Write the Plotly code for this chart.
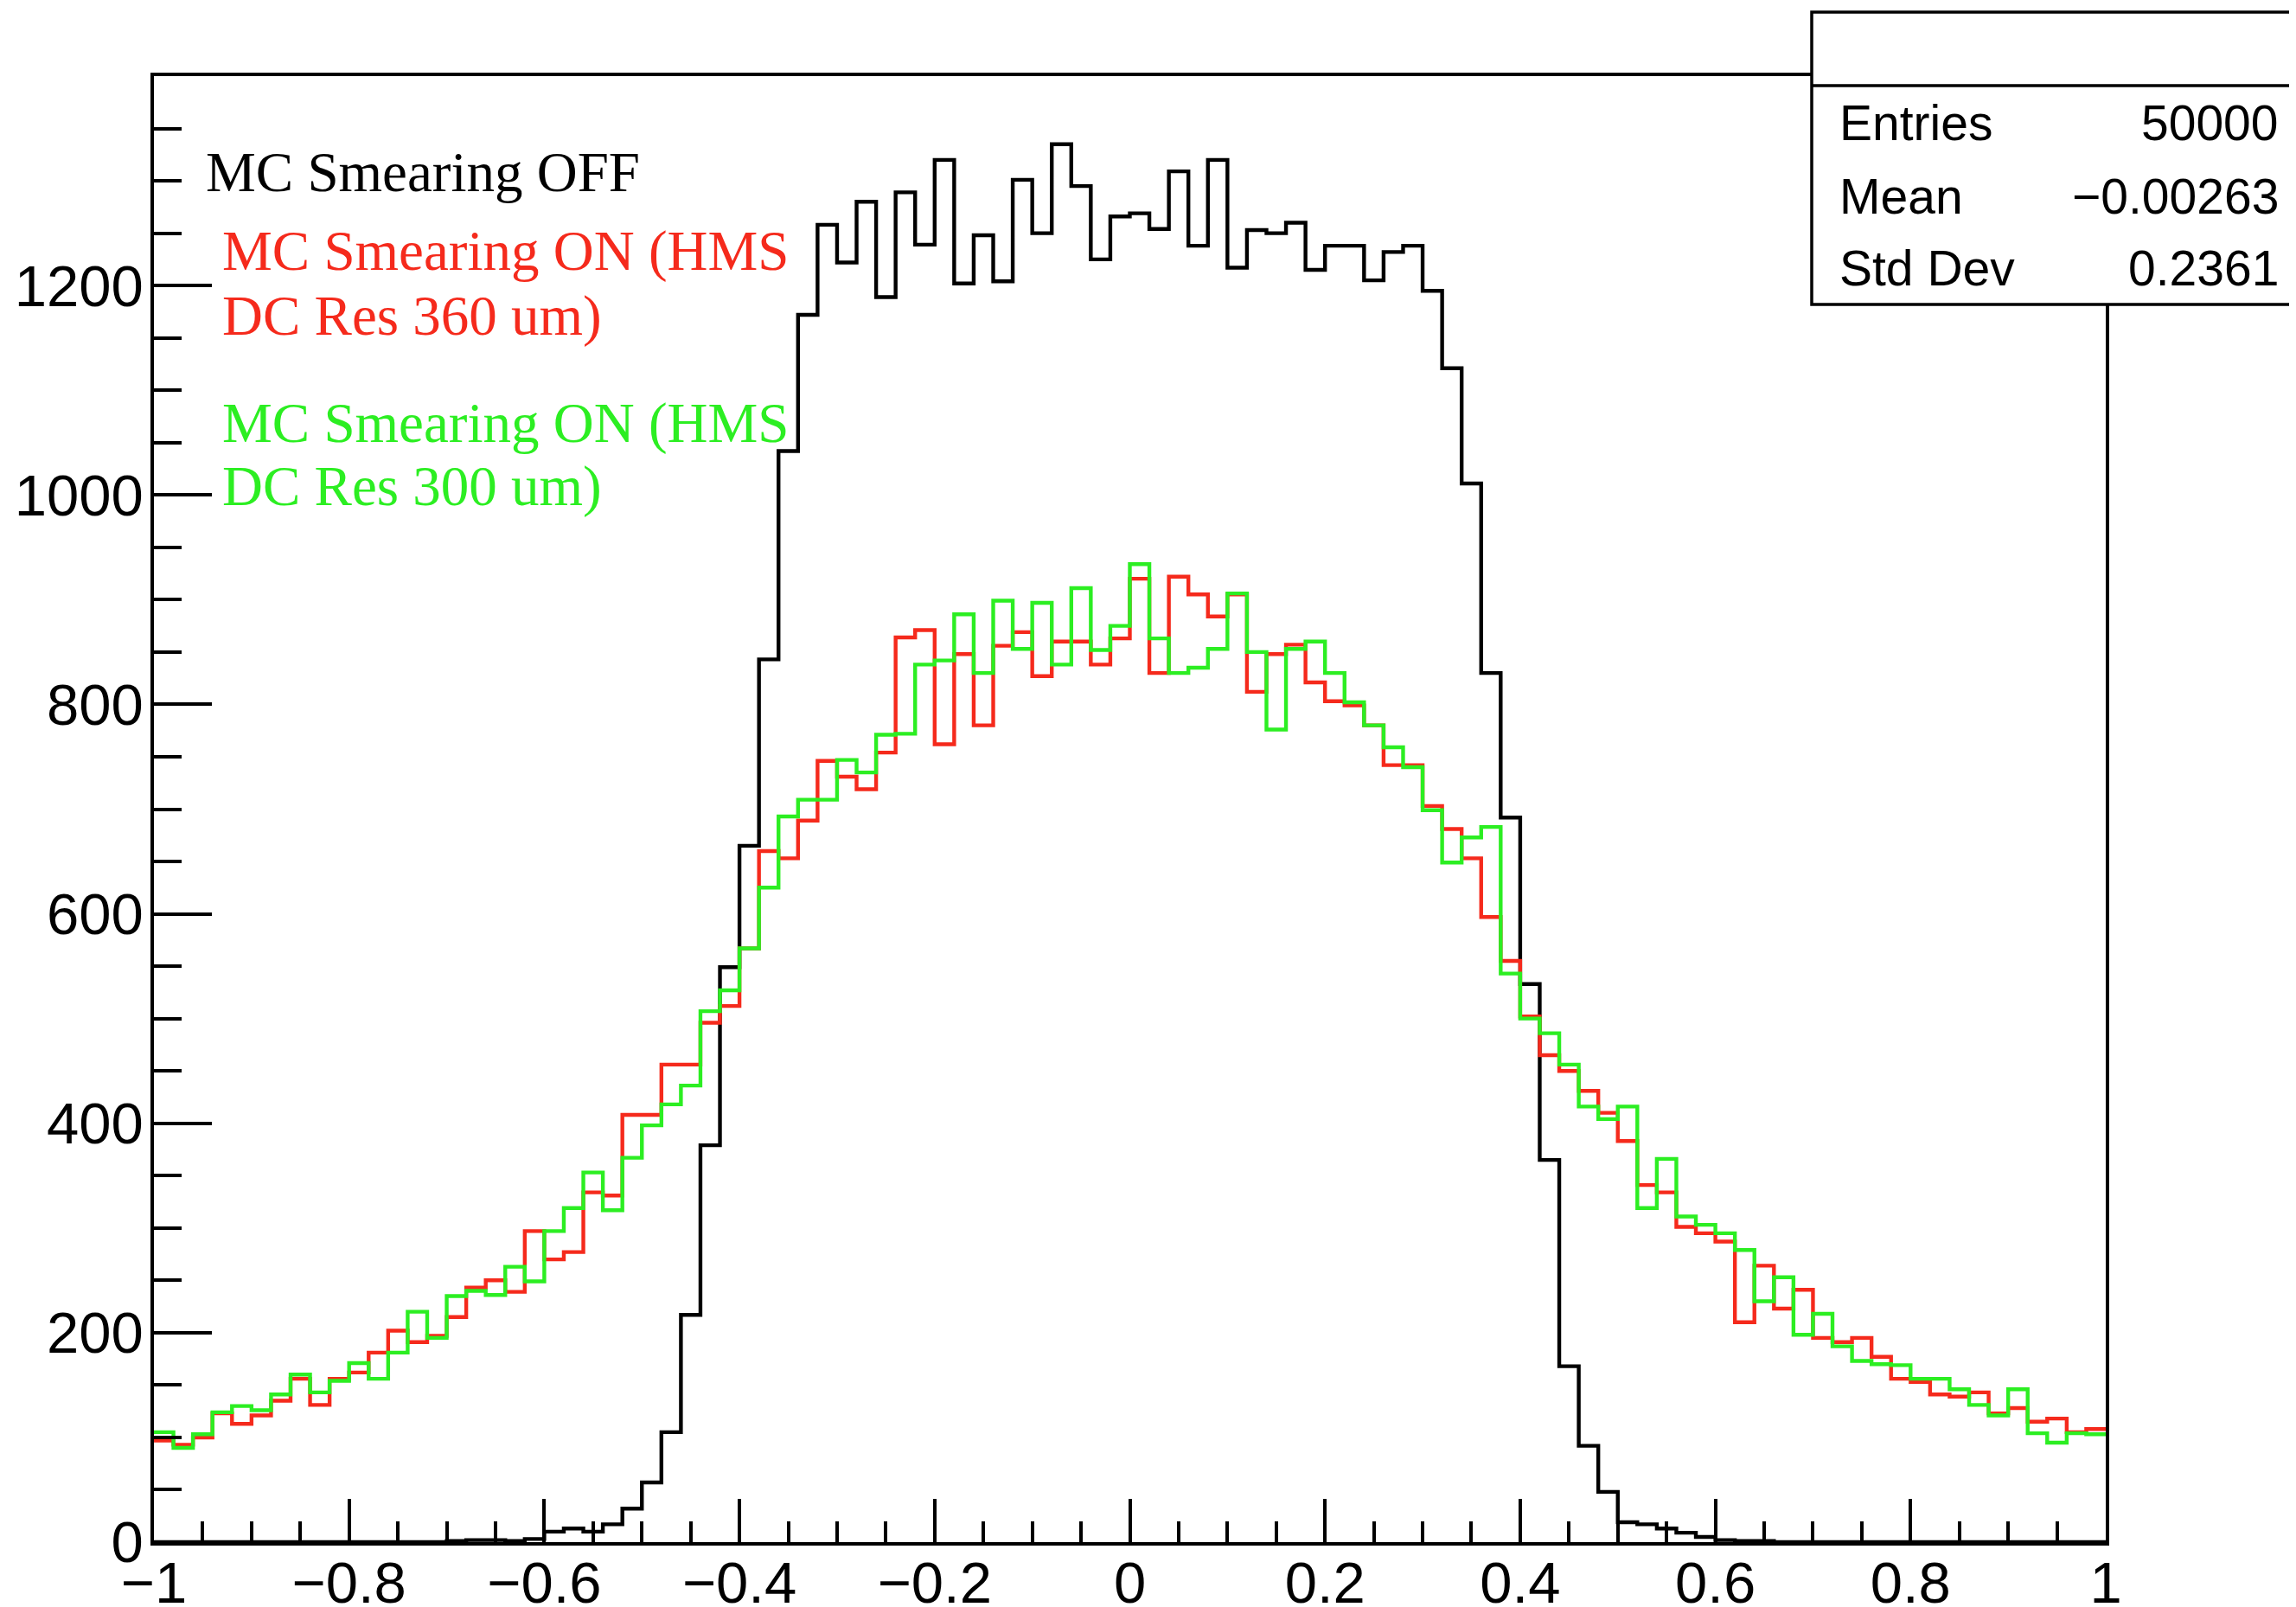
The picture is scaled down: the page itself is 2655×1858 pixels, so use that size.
import numpy as np
import plotly.graph_objects as go

# ---------------- data ----------------
bin_edges = np.linspace(-1.0, 1.0, 101)  # 100 bins of width 0.02

smear_off = [
    0, 0, 0, 0, 0, 0, 0, 0, 0, 0,
    0, 0, 0, 0, 0, 1, 2, 2, 1, 3,
    10, 13, 10, 17, 32, 57, 105, 217, 379, 549,
    665, 843, 1042, 1172, 1258, 1222, 1280, 1189, 1289, 1239,
    1320, 1202, 1248, 1204, 1301, 1250, 1335, 1295, 1225, 1266,
    1269, 1254, 1309, 1238, 1320, 1217, 1253, 1250, 1260, 1215,
    1238, 1238, 1205, 1232, 1238, 1195, 1121, 1011, 830, 692,
    533, 365, 168, 92, 48, 19, 17, 13, 9, 5,
    2, 1, 1, 0, 0, 0, 0, 0, 0, 0,
    0, 0, 0, 0, 0, 0, 0, 0, 0, 0,
]

smear_on_360 = [
    97, 93, 100, 123, 113, 121, 135, 156, 131, 156,
    162, 181, 202, 191, 197, 215, 243, 250, 239, 297,
    270, 277, 334, 331, 408, 408, 456, 456, 496, 512,
    567, 660, 653, 689, 746, 731, 719, 754, 864, 871,
    762, 848, 780, 856, 869, 827, 860, 860, 838, 863,
    920, 830, 922, 905, 884, 905, 812, 848, 857, 821,
    803, 799, 780, 742, 742, 703, 681, 653, 597, 555,
    502, 465, 450, 431, 410, 383, 341, 334, 301, 295,
    287, 210, 264, 223, 241, 195, 191, 195, 177, 156,
    153, 141, 139, 143, 123, 128, 115, 118, 105, 108,
]

smear_on_300 = [
    105, 90, 103, 124, 130, 126, 141, 160, 143, 154,
    171, 156, 181, 220, 195, 235, 240, 236, 263, 249,
    297, 319, 353, 317, 367, 398, 418, 436, 507, 527,
    567, 625, 693, 709, 709, 747, 735, 771, 772, 838,
    842, 886, 830, 899, 853, 897, 838, 911, 852, 875,
    934, 863, 830, 835, 853, 906, 850, 776, 853, 860,
    830, 802, 780, 759, 740, 699, 649, 673, 683, 543,
    500, 486, 456, 416, 404, 416, 319, 366, 311, 303,
    295, 279, 230, 253, 198, 218, 187, 173, 170, 169,
    156, 156, 146, 131, 121, 146, 104, 95, 104, 103,
]

x_tick_vals = [-1, -0.8, -0.6, -0.4, -0.2, 0, 0.2, 0.4, 0.6, 0.8, 1]
x_tick_text = ["\u22121", "\u22120.8", "\u22120.6", "\u22120.4", "\u22120.2",
               "0", "0.2", "0.4", "0.6", "0.8", "1"]
x_minor_vals = list(np.round(np.arange(-1.0, 1.0001, 0.05), 3))

y_tick_vals = [0, 200, 400, 600, 800, 1000, 1200]
y_tick_text = ["0", "200", "400", "600", "800", "1000", "1200"]
y_minor_vals = list(range(0, 1401, 50))

legend_lines = [
    ("MC Smearing OFF", "black"),
    ("MC Smearing ON (HMS", "red"),
    ("DC Res 360 um)", "red"),
    ("MC Smearing ON (HMS", "green"),
    ("DC Res 300 um)", "green"),
]
stats_labels = ["Entries", "Mean", "Std Dev"]
stats_values = ["50000", "\u22120.00263", "0.2361"]

# ---------------- styling ----------------
# the page body has an 8px margin; shift everything so the figure lines up
OFF = 8
W, H = 2655 - OFF, 1858 - OFF
L, T = 178 - OFF, 88 - OFF
R, B = 2655 - 2435, 1858 - 1783
PW, PH = W - L - R, H - T - B

RED = "#f52a1c"
GREEN = "#2cee22"
colors = {"black": "black", "red": RED, "green": GREEN}


def px2paper_x(px):
    # px given in reference-image pixels
    return (px - OFF - L) / PW


def px2paper_y(py):
    return (H - B - (py - OFF)) / PH


fig = go.Figure()
for vals, col in [(smear_off, "black"), (smear_on_360, RED), (smear_on_300, GREEN)]:
    xs = list(bin_edges)
    ys = list(vals) + [vals[-1]]
    fig.add_trace(go.Scatter(
        x=xs, y=ys, mode="lines",
        line=dict(color=col, width=4.4, shape="hv"),
        showlegend=False, hoverinfo="skip", cliponaxis=True,
    ))

tickfont = dict(family="Liberation Sans, Arial, sans-serif", size=67, color="black")

fig.update_xaxes(
    range=[-1, 1], tickmode="array", tickvals=x_tick_vals, ticktext=x_tick_text,
    ticks="inside", ticklen=50, tickwidth=3.5, tickcolor="black",
    showline=True, linecolor="black", linewidth=3.5, mirror=True,
    showgrid=False, zeroline=False, tickfont=tickfont, automargin=False,
    ticklabelstandoff=-14,
    minor=dict(tickmode="array", tickvals=x_minor_vals, ticks="inside",
               ticklen=24, tickwidth=3.5, tickcolor="black", showgrid=False),
)
fig.update_yaxes(
    range=[0, 1400], tickmode="array", tickvals=y_tick_vals, ticktext=y_tick_text,
    ticks="inside", ticklen=67, tickwidth=3.5, tickcolor="black",
    showline=True, linecolor="black", linewidth=3.5, mirror=True,
    showgrid=False, zeroline=False, tickfont=tickfont, automargin=False,
    ticklabelstandoff=-5,
    minor=dict(tickmode="array", tickvals=y_minor_vals, ticks="inside",
               ticklen=32, tickwidth=3.5, tickcolor="black", showgrid=False),
)

annotations = []
# legend text (Times-like serif)
legend_centers = [199, 290, 365, 489, 562]
legend_left = [236, 255, 255, 255, 255]
for (txt, c), cy, lx in zip(legend_lines, legend_centers, legend_left):
    annotations.append(dict(
        text=txt, x=px2paper_x(lx), y=px2paper_y(cy), xref="paper", yref="paper",
        xanchor="left", yanchor="middle", showarrow=False,
        font=dict(family="Liberation Serif, Times New Roman, serif", size=65, color=colors[c]),
    ))

# stats box
box_x0, box_x1, box_y0, box_y1, box_div = 2095, 2680, 352, 14, 99
shapes = [
    dict(type="rect", xref="paper", yref="paper", layer="above",
         x0=px2paper_x(box_x0), x1=px2paper_x(box_x1),
         y0=px2paper_y(box_y0), y1=px2paper_y(box_y1),
         line=dict(color="black", width=3.5), fillcolor="white"),
    dict(type="line", xref="paper", yref="paper", layer="above",
         x0=px2paper_x(box_x0), x1=px2paper_x(box_x1),
         y0=px2paper_y(box_div), y1=px2paper_y(box_div),
         line=dict(color="black", width=3.5)),
]
stats_centers = [142, 227, 310]
statfont = dict(family="Liberation Sans, Arial, sans-serif", size=57, color="black")
for lab, val, cy in zip(stats_labels, stats_values, stats_centers):
    annotations.append(dict(text=lab, x=px2paper_x(2125), y=px2paper_y(cy),
                            xref="paper", yref="paper", xanchor="left", yanchor="middle",
                            showarrow=False, font=statfont))
    annotations.append(dict(text=val, x=px2paper_x(2637), y=px2paper_y(cy),
                            xref="paper", yref="paper", xanchor="right", yanchor="middle",
                            showarrow=False, font=statfont))

fig.update_layout(
    width=W, height=H,
    margin=dict(l=L, r=R, t=T, b=B, pad=0, autoexpand=False),
    paper_bgcolor="white", plot_bgcolor="white",
    showlegend=False, shapes=shapes, annotations=annotations,
)

fig.write_html("out.html")
